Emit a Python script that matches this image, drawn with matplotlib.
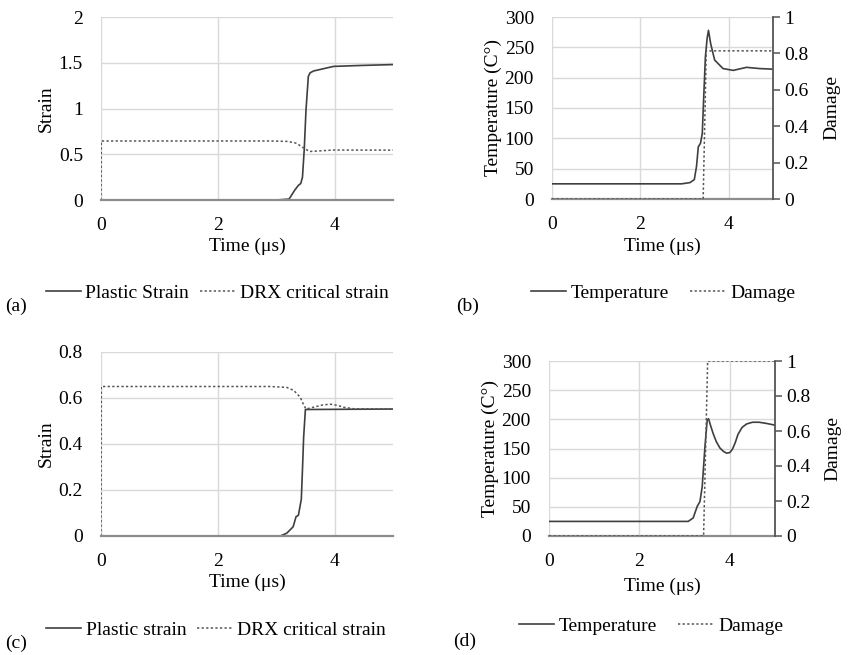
import matplotlib
matplotlib.use("Agg")
import matplotlib.pyplot as plt
from matplotlib.lines import Line2D

plt.rcParams['font.family'] = ['Liberation Serif', 'DejaVu Serif']
plt.rcParams['font.size'] = 14

# ---------------- data ----------------
# (a)
t_a_plastic = [0, 3.0, 3.22, 3.27, 3.32, 3.38, 3.42, 3.45, 3.48, 3.51, 3.55, 3.58, 3.64, 3.98, 4.43, 5.0]
a_plastic = [0, 0, 0.01, 0.06, 0.11, 0.16, 0.18, 0.25, 0.55, 0.98, 1.35, 1.39, 1.41, 1.46, 1.47, 1.48]
t_a_drx = [0, 0.005, 2.9, 3.2, 3.35, 3.44, 3.52, 3.57, 3.7, 3.98, 5.0]
a_drx = [0, 0.645, 0.645, 0.64, 0.62, 0.58, 0.55, 0.53, 0.535, 0.546, 0.545]
# (b)
t_b_temp = [0, 2.93, 3.12, 3.22, 3.27, 3.31, 3.36, 3.40, 3.43, 3.47, 3.51, 3.54, 3.59, 3.68,
            3.87, 4.10, 4.40, 4.70, 5.0]
b_temp = [25, 25, 27, 32, 54, 86, 92, 108, 163, 234, 265, 278, 256, 229, 215, 212, 217, 215, 214]
t_b_dmg = [0, 3.42, 3.49, 5.0]
b_dmg = [0, 0, 0.814, 0.814]
# (c)
t_c_plastic = [0, 3.07, 3.18, 3.29, 3.34, 3.38, 3.43, 3.45, 3.47, 3.50, 5.0]
c_plastic = [0, 0, 0.012, 0.04, 0.084, 0.09, 0.16, 0.29, 0.43, 0.55, 0.552]
t_c_drx = [0, 0.005, 2.9, 3.18, 3.30, 3.41, 3.47, 3.51, 3.64, 3.80, 3.93, 4.05, 4.15, 4.33, 5.0]
c_drx = [0, 0.65, 0.65, 0.646, 0.633, 0.604, 0.57, 0.552, 0.56, 0.57, 0.573, 0.568, 0.56, 0.553, 0.552]
# (d)
t_d_temp = [0, 3.08, 3.19, 3.28, 3.34, 3.39, 3.45, 3.50, 3.53, 3.58, 3.63, 3.70, 3.78, 3.86,
            3.93, 4.00, 4.06, 4.12, 4.18, 4.27, 4.37, 4.50, 4.65, 4.81, 5.0]
d_temp = [25, 25, 31, 51, 59, 85, 153, 199, 201, 188, 176, 162, 151, 145,
          142, 143, 149, 160, 174, 186, 192, 195, 195, 193, 190]
t_d_dmg = [0, 3.42, 3.51, 5.0]
d_dmg = [0, 0, 1, 1]

x_ticks = [0, 2, 4]
a_yticks = [0, 0.5, 1, 1.5, 2]
a_yticklabels = ['0', '0.5', '1', '1.5', '2']
c_yticks = [0, 0.2, 0.4, 0.6, 0.8]
c_yticklabels = ['0', '0.2', '0.4', '0.6', '0.8']
temp_ticks = [0, 50, 100, 150, 200, 250, 300]
dmg_ticks = [0, 0.2, 0.4, 0.6, 0.8, 1]
dmg_ticklabels = ['0', '0.2', '0.4', '0.6', '0.8', '1']

# ---------------- layout ----------------
W, H = 853, 655
fig = plt.figure(figsize=(W / 100, H / 100), dpi=100)


def box(l, r, t, b):
    return [l / W, 1 - b / H, (r - l) / W, (b - t) / H]


SOLID = '#3f3f3f'
DOT = '#555555'
GRID = '#d9d9d9'
dotstyle = (0, (1.5, 1.5))


def style_ax(ax):
    for s in ['top', 'right', 'left']:
        ax.spines[s].set_visible(False)
    ax.spines['bottom'].set_color('#8c8c8c')
    ax.spines['bottom'].set_linewidth(1.6)
    ax.grid(True, color=GRID, lw=1.0)
    ax.set_axisbelow(True)
    ax.tick_params(axis='x', length=0, pad=12)
    ax.tick_params(axis='y', length=0, pad=13)
    ax.set_xlim(0, 5)
    ax.set_xticks(x_ticks)


def place_labels(ax, xlab_y, ylab_x, axbox):
    # xlab_y: centre of x label (px); ylab_x: centre of y label (px)
    l, r, t, b = axbox
    ax.set_xlabel('Time (μs)')
    ax.xaxis.set_label_coords(0.5, (b - (xlab_y - 9)) / (b - t))
    ax.yaxis.set_label_coords(((ylab_x + 9) - l) / (r - l), 0.5)


def twin_style(ax2):
    for s in ['top', 'left', 'bottom']:
        ax2.spines[s].set_visible(False)
    ax2.spines['right'].set_color('#555555')
    ax2.spines['right'].set_linewidth(1.3)
    ax2.tick_params(axis='y', length=5, width=1.1, color='#555555', pad=3, direction='out')
    ax2.set_ylim(0, 1)
    ax2.set_yticks(dmg_ticks)
    ax2.set_yticklabels(dmg_ticklabels)


# (a)
ba = (101, 393, 17, 200)
ax = fig.add_axes(box(*ba))
style_ax(ax)
ax.plot(t_a_plastic, a_plastic, color=SOLID, lw=1.2)
ax.plot(t_a_drx, a_drx, color=DOT, lw=1.1, ls=dotstyle)
ax.set_ylim(0, 2)
ax.set_yticks(a_yticks)
ax.set_yticklabels(a_yticklabels)
ax.set_ylabel('Strain')
place_labels(ax, 247, 46, ba)

# (b)
bb = (552, 773, 17, 199)
ax = fig.add_axes(box(*bb))
style_ax(ax)
ax.plot(t_b_temp, b_temp, color=SOLID, lw=1.2)
ax.set_ylim(0, 300)
ax.set_yticks(temp_ticks)
ax.set_ylabel('Temperature (C°)')
place_labels(ax, 247, 493, bb)
ax2 = ax.twinx()
twin_style(ax2)
ax2.plot(t_b_dmg, b_dmg, color=DOT, lw=1.1, ls=dotstyle)
ax2.set_ylabel('Damage')
ax2.yaxis.set_label_coords((823 - bb[0]) / (bb[1] - bb[0]), 0.5)

# (c)
bc = (101, 393, 352, 536)
ax = fig.add_axes(box(*bc))
style_ax(ax)
ax.plot(t_c_plastic, c_plastic, color=SOLID, lw=1.2)
ax.plot(t_c_drx, c_drx, color=DOT, lw=1.1, ls=dotstyle)
ax.set_ylim(0, 0.8)
ax.set_yticks(c_yticks)
ax.set_yticklabels(c_yticklabels)
ax.set_ylabel('Strain')
place_labels(ax, 583, 46, bc)

# (d)
bd = (549, 775, 361, 536)
ax = fig.add_axes(box(*bd))
style_ax(ax)
ax.plot(t_d_temp, d_temp, color=SOLID, lw=1.2)
ax.set_ylim(0, 300)
ax.set_yticks(temp_ticks)
ax.set_ylabel('Temperature (C°)')
place_labels(ax, 587, 490, bd)
ax2 = ax.twinx()
twin_style(ax2)
ax2.plot(t_d_dmg, d_dmg, color=DOT, lw=1.1, ls=dotstyle)
ax2.set_ylabel('Damage')
ax2.yaxis.set_label_coords((824 - bd[0]) / (bd[1] - bd[0]), 0.5)


# legends
def add_legend(labels, cx, cy, colspace):
    handles = [Line2D([], [], color=SOLID, lw=1.2),
               Line2D([], [], color=DOT, lw=1.1, ls=dotstyle)]
    fig.legend(handles, labels, loc='center', bbox_to_anchor=(cx / W, 1 - cy / H),
               ncol=2, frameon=False, handlelength=1.8, handletextpad=0.25,
               columnspacing=colspace, borderaxespad=0, borderpad=0)


add_legend(['Plastic Strain', 'DRX critical strain'], 217, 293, 0.55)
add_legend(['Temperature', 'Damage'], 663, 293, 1.1)
add_legend(['Plastic strain', 'DRX critical strain'], 216, 630, 0.55)
add_legend(['Temperature', 'Damage'], 651, 626, 1.1)

fig.text(5 / W, 1 - 306 / H, '(a)', ha='left', va='center')
fig.text(456 / W, 1 - 306 / H, '(b)', ha='left', va='center')
fig.text(5 / W, 1 - 643 / H, '(c)', ha='left', va='center')
fig.text(453 / W, 1 - 641 / H, '(d)', ha='left', va='center')

fig.savefig('out.png', dpi=100)
